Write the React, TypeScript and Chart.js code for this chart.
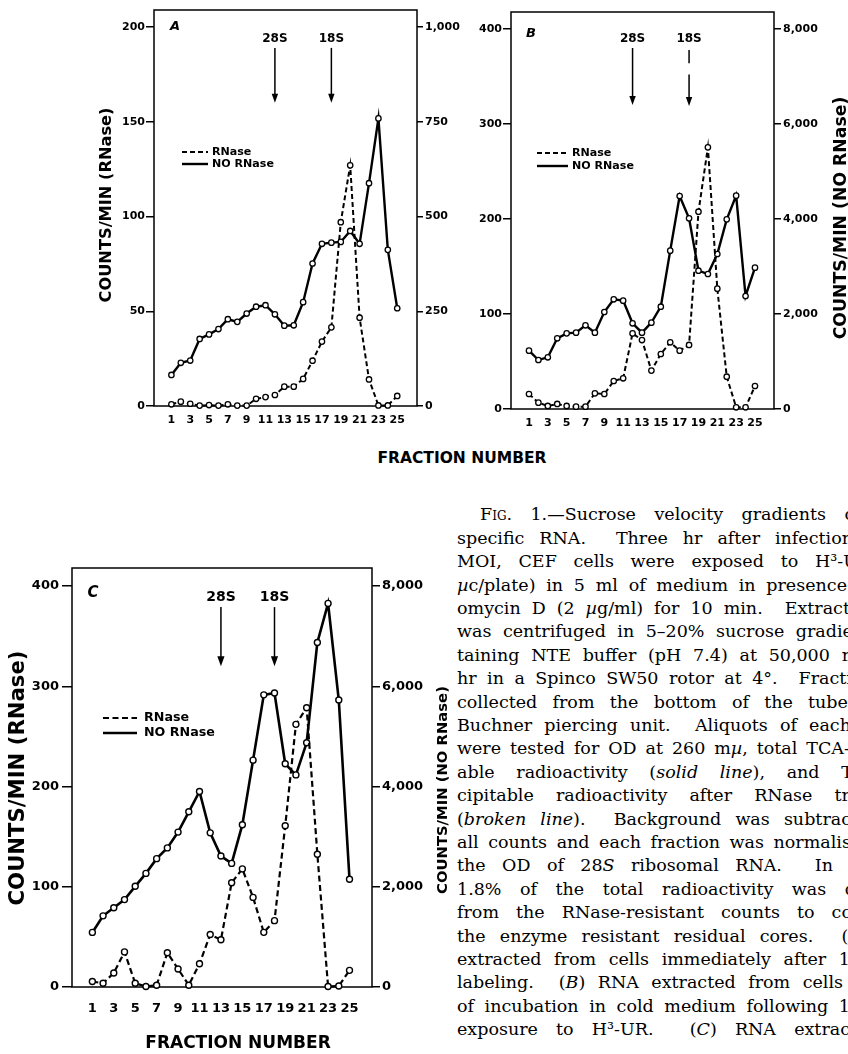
import React, { useEffect, useRef } from "react";
import { Chart, registerables } from "chart.js";

Chart.register(...registerables);

// ---------- DATA ----------
const FRACTIONS = [1, 2, 3, 4, 5, 6, 7, 8, 9, 10, 11, 12, 13, 14, 15, 16, 17, 18, 19, 20, 21, 22, 23, 24, 25];
const X_TICKS = [1, 3, 5, 7, 9, 11, 13, 15, 17, 19, 21, 23, 25];
const A_LEFT_TICKS = [0, 50, 100, 150, 200];
const A_RIGHT_TICKS = [0, 250, 500, 750, 1000];
const BC_LEFT_TICKS = [0, 100, 200, 300, 400];
const BC_RIGHT_TICKS = [0, 2000, 4000, 6000, 8000];
const LEGEND_LABELS = ["RNase", "NO RNase"];
const MARKER_LABELS = ["28S", "18S"];
const A_MARKERS = [12, 18];
const B_MARKERS = [12, 18];
const C_MARKERS = [13, 18];
const LEFT_TITLE = "COUNTS/MIN (RNase)";
const RIGHT_TITLE = "COUNTS/MIN (NO RNase)";
const X_TITLE = "FRACTION NUMBER";

// RNase (left axis), NO RNase (right axis)
const A_RNASE = [0.9, 2.3, 1.2, 0.2, 0.5, 0.2, 0.9, 0.2, 0.2, 3.8, 4.7, 5.8, 10.2, 10.2, 14.3, 23.9, 34, 41.5, 97, 127, 46.6, 14, 0.3, 0.3, 5.3];
const A_NO_RNASE = [82, 114, 120, 177, 189, 203, 229, 222, 244, 262, 266, 242, 212, 213, 274, 376, 428, 431, 433, 462, 428, 588, 759, 412, 258];
const B_RNASE = [15.8, 6.7, 3.2, 5.3, 3.2, 2.5, 2.5, 16.5, 15.8, 29.5, 32.3, 79.6, 72.6, 40.4, 57.9, 70.2, 61.4, 67.4, 207.7, 275.4, 126.7, 34, 1.8, 1.8, 24.2];
const B_NO_RNASE = [1228, 1032, 1088, 1488, 1593, 1607, 1762, 1607, 2042, 2309, 2281, 1804, 1607, 1818, 2154, 3334, 4484, 4014, 2912, 2842, 3263, 3993, 4492, 2379, 2976];
const C_RNASE = [5.5, 3.7, 14, 35, 3.7, 0.5, 1.8, 34.2, 18, 1.8, 23.2, 52.3, 47.1, 104, 117.8, 89.4, 54.5, 66.2, 160.8, 262, 278.6, 132.5, 0.5, 1, 16.6];
const C_NO_RNASE = [1089, 1420, 1582, 1744, 2009, 2267, 2561, 2775, 3091, 3496, 3901, 3076, 2613, 2466, 3238, 4526, 5829, 5866, 4453, 4232, 4872, 6874, 7654, 5726, 2149];

const CAPTION_LINES = [
  "~Fig.~ 1.—Sucrose velocity gradients o",
  "specific RNA.  Three hr after infection",
  "MOI, CEF cells were exposed to H³-U",
  "*µ*c/plate) in 5 ml of medium in presence",
  "omycin D (2 *µ*g/ml) for 10 min.  Extract",
  "was centrifuged in 5–20% sucrose gradie",
  "taining NTE buffer (pH 7.4) at 50,000 r",
  "hr in a Spinco SW50 rotor at 4°.  Fracti",
  "collected from the bottom of the tube",
  "Buchner piercing unit.  Aliquots of each",
  "were tested for OD at 260 m*µ*, total TCA-",
  "able radioactivity (*solid* *line*), and T",
  "cipitable radioactivity after RNase tr",
  "(*broken* *line*).  Background was subtrac",
  "all counts and each fraction was normalis",
  "the OD of 28*S* ribosomal RNA.  In",
  "1.8% of the total radioactivity was d",
  "from the RNase-resistant counts to co",
  "the enzyme resistant residual cores.  (A",
  "extracted from cells immediately after 1",
  "labeling.  (*B*) RNA extracted from cells",
  "of incubation in cold medium following 1",
  "exposure to H³-UR.  (*C*) RNA extrac",
];

// ---------- LAYOUT ----------
const CAPTION_RIGHT = [855, 853, 858, 847, 850, 853, 850, 852, 848, 851, 850, 853, 850, 851, 851, 833, 856, 852, 861, 850, 843, 850, 850];
const CAPTION_LEFT = 457;
const CAPTION_FIRST_LEFT = 480;
const CAPTION_TOP = 515;
const CAPTION_STEP = 23.4;
const CAPTION_FONT = 17.5;
const SANS = '"DejaVu Sans"';

type Panel = {
  letter: string;
  rnase: number[];
  noRnase: number[];
  markers: number[];
  leftTicks: number[];
  rightTicks: number[];
  left: number; top: number; w: number; h: number;
  leftW: number; rightW: number; padTop: number; xH: number;
  xMin: number; xMax: number; yMax: number; y2Max: number;
  tickFont: number; xTickFont: number; xTickPad: number;
  leftTickLen: number; leftTickPad: number; rightTickLen: number; rightTickPad: number;
  solidW: number; dashW: number; dash: number[]; pointR: number; pointBW: number;
  letterPos: [number, number]; letterSize: number;
  markerLabelY: number; markerSegs: [number, number][][]; markerFont: number;
  headW: number; headLen: number;
  legend: { x1: number; x2: number; tx: number; y1: number; y2: number; textW: number };
  titles: { text: string; x: number; y: number; len: number }[];
};

const PANELS: Panel[] = [
  {
    letter: "A", rnase: A_RNASE, noRnase: A_NO_RNASE, markers: A_MARKERS,
    leftTicks: A_LEFT_TICKS, rightTicks: A_RIGHT_TICKS,
    left: 90, top: 0, w: 380, h: 440, leftW: 64, rightW: 53, padTop: 10, xH: 34,
    xMin: -0.85, xMax: 27.1, yMax: 209, y2Max: 1045,
    tickFont: 11, xTickFont: 11, xTickPad: 8,
    leftTickLen: 8, leftTickPad: 1, rightTickLen: 6, rightTickPad: 2,
    solidW: 2.4, dashW: 2, dash: [5, 3], pointR: 2.7, pointBW: 1.3,
    letterPos: [175, 27], letterSize: 13,
    markerLabelY: 194, markerSegs: [[[189, 160]], [[189, 160]]], markerFont: 12,
    headW: 3.2, headLen: 9,
    legend: { x1: 182, x2: 208, tx: 212, y1: 152, y2: 164, textW: 62 },
    titles: [{ text: LEFT_TITLE, x: 107, y: 205, len: 195 }],
  },
  {
    letter: "B", rnase: B_RNASE, noRnase: B_NO_RNASE, markers: B_MARKERS,
    leftTicks: BC_LEFT_TICKS, rightTicks: BC_RIGHT_TICKS,
    left: 470, top: 0, w: 378, h: 440, leftW: 41, rightW: 74, padTop: 12, xH: 31,
    xMin: -0.91, xMax: 27.02, yMax: 417.9, y2Max: 8358,
    tickFont: 11, xTickFont: 11, xTickPad: 8,
    leftTickLen: 8, leftTickPad: 1, rightTickLen: 7, rightTickPad: 2,
    solidW: 2.4, dashW: 2, dash: [5, 3], pointR: 2.7, pointBW: 1.3,
    letterPos: [531, 34], letterSize: 13,
    markerLabelY: 390, markerSegs: [[[380, 320]], [[378, 364], [352, 319]]], markerFont: 12,
    headW: 3.2, headLen: 9,
    legend: { x1: 537, x2: 568, tx: 572, y1: 153, y2: 166, textW: 62 },
    titles: [{ text: RIGHT_TITLE, x: 842, y: 218, len: 243 }],
  },
  {
    letter: "C", rnase: C_RNASE, noRnase: C_NO_RNASE, markers: C_MARKERS,
    leftTicks: BC_LEFT_TICKS, rightTicks: BC_RIGHT_TICKS,
    left: 0, top: 540, w: 456, h: 514, leftW: 72, rightW: 84, padTop: 28, xH: 67,
    xMin: -0.9, xMax: 27.1, yMax: 418, y2Max: 8360,
    tickFont: 13, xTickFont: 13, xTickPad: 14,
    leftTickLen: 10, leftTickPad: 3, rightTickLen: 8, rightTickPad: 2,
    solidW: 2.6, dashW: 2.2, dash: [6, 3.5], pointR: 3, pointBW: 1.4,
    letterPos: [93, 593], letterSize: 15,
    markerLabelY: 389, markerSegs: [[[379, 320]], [[379, 320]]], markerFont: 14,
    headW: 3.6, headLen: 10,
    legend: { x1: 103, x2: 137, tx: 144, y1: 718, y2: 733, textW: 71 },
    titles: [
      { text: LEFT_TITLE, x: 18, y: 778, len: 255 },
      { text: RIGHT_TITLE, x: 443, y: 790, len: 208 },
    ],
  },
];

function fitSize(ctx: CanvasRenderingContext2D, text: string, len: number, weight: string) {
  ctx.font = `${weight} 100px ${SANS}`;
  const w = ctx.measureText(text).width;
  return (100 * len) / w;
}

function decoPlugin(p: Panel) {
  return {
    id: "deco" + p.letter,
    beforeDatasetsDraw(chart: any) {
      const { ctx, chartArea: a } = chart;
      ctx.save();
      ctx.strokeStyle = "#000";
      ctx.lineWidth = 1.5;
      ctx.setLineDash([]);
      ctx.strokeRect(a.left, a.top, a.right - a.left, a.bottom - a.top);
      ctx.restore();
    },
    afterDraw(chart: any) {
      const ctx: CanvasRenderingContext2D = chart.ctx;
      const xs = chart.scales.x;
      const ys = chart.scales.y;
      const ox = p.left;
      const oy = p.top;
      ctx.save();
      ctx.fillStyle = "#000";
      ctx.strokeStyle = "#000";
      ctx.textAlign = "center";
      ctx.textBaseline = "middle";
      // panel letter
      ctx.font = `italic bold ${p.letterSize}px ${SANS}`;
      ctx.fillText(p.letter, p.letterPos[0] - ox, p.letterPos[1] - oy);
      // markers (28S / 18S)
      p.markers.forEach((m, i) => {
        const x = xs.getPixelForValue(m);
        ctx.font = `bold ${p.markerFont}px ${SANS}`;
        ctx.fillText(MARKER_LABELS[i], x, ys.getPixelForValue(p.markerLabelY));
        const segs = p.markerSegs[i];
        ctx.lineWidth = 1.5;
        ctx.setLineDash([]);
        segs.forEach(([t, b], j) => {
          const y1 = ys.getPixelForValue(t);
          const y2 = ys.getPixelForValue(b);
          const last = j === segs.length - 1;
          ctx.beginPath();
          ctx.moveTo(x, y1);
          ctx.lineTo(x, last ? y2 - p.headLen + 1 : y2);
          ctx.stroke();
          if (last) {
            ctx.beginPath();
            ctx.moveTo(x - p.headW, y2 - p.headLen);
            ctx.lineTo(x + p.headW, y2 - p.headLen);
            ctx.lineTo(x, y2);
            ctx.closePath();
            ctx.fill();
          }
        });
      });
      // legend
      const L = p.legend;
      ctx.lineWidth = p.dashW;
      ctx.setLineDash(p.dash);
      ctx.beginPath();
      ctx.moveTo(L.x1 - ox, L.y1 - oy);
      ctx.lineTo(L.x2 - ox, L.y1 - oy);
      ctx.stroke();
      ctx.setLineDash([]);
      ctx.lineWidth = p.solidW;
      ctx.beginPath();
      ctx.moveTo(L.x1 - ox, L.y2 - oy);
      ctx.lineTo(L.x2 - ox, L.y2 - oy);
      ctx.stroke();
      const ls = fitSize(ctx, LEGEND_LABELS[1], L.textW, "bold");
      ctx.font = `bold ${ls}px ${SANS}`;
      ctx.textAlign = "left";
      ctx.fillText(LEGEND_LABELS[0], L.tx - ox, L.y1 - oy);
      ctx.fillText(LEGEND_LABELS[1], L.tx - ox, L.y2 - oy);
      // axis titles (rotated, reading bottom to top)
      p.titles.forEach((t) => {
        const s = fitSize(ctx, t.text, t.len, "bold");
        ctx.save();
        ctx.font = `bold ${s}px ${SANS}`;
        ctx.translate(t.x - ox, t.y - oy);
        ctx.rotate(-Math.PI / 2);
        ctx.textAlign = "center";
        ctx.textBaseline = "middle";
        ctx.fillText(t.text, 0, 0);
        ctx.restore();
      });
      ctx.restore();
    },
  };
}

function buildConfig(p: Panel): any {
  const common = {
    borderColor: "#000",
    pointStyle: "circle",
    pointRadius: p.pointR,
    pointBackgroundColor: "#fff",
    pointBorderColor: "#000",
    pointBorderWidth: p.pointBW,
    fill: false,
    tension: 0,
    clip: false,
  };
  const fmt = (v: any) => Number(v).toLocaleString("en-US");
  return {
    type: "line",
    data: {
      datasets: [
        {
          ...common,
          label: LEGEND_LABELS[0],
          data: FRACTIONS.map((f, i) => ({ x: f, y: p.rnase[i] })),
          yAxisID: "y",
          borderWidth: p.dashW,
          borderDash: p.dash,
        },
        {
          ...common,
          label: LEGEND_LABELS[1],
          data: FRACTIONS.map((f, i) => ({ x: f, y: p.noRnase[i] })),
          yAxisID: "y2",
          borderWidth: p.solidW,
        },
      ],
    },
    options: {
      responsive: false,
      animation: false,
      devicePixelRatio: 1,
      events: [],
      layout: { padding: { top: p.padTop, left: 0, right: 0, bottom: 0 }, autoPadding: false },
      plugins: { legend: { display: false }, tooltip: { enabled: false }, title: { display: false } },
      scales: {
        x: {
          type: "linear",
          position: "bottom",
          min: p.xMin,
          max: p.xMax,
          afterBuildTicks: (s: any) => {
            s.ticks = X_TICKS.map((v) => ({ value: v }));
          },
          afterFit: (s: any) => {
            s.height = p.xH;
          },
          grid: { display: false, drawTicks: false },
          border: { display: false },
          ticks: {
            color: "#000",
            font: { family: "DejaVu Sans", weight: "bold", size: p.xTickFont },
            padding: p.xTickPad,
            maxRotation: 0,
            autoSkip: false,
            callback: (v: any) => String(v),
          },
        },
        y: {
          type: "linear",
          position: "left",
          min: 0,
          max: p.yMax,
          afterBuildTicks: (s: any) => {
            s.ticks = p.leftTicks.map((v) => ({ value: v }));
          },
          afterFit: (s: any) => {
            s.width = p.leftW;
          },
          grid: { drawOnChartArea: false, drawTicks: true, tickLength: p.leftTickLen, color: "#000", lineWidth: 1.5 },
          border: { display: false },
          ticks: {
            color: "#000",
            font: { family: "DejaVu Sans", weight: "bold", size: p.tickFont },
            padding: p.leftTickPad,
            callback: fmt,
          },
        },
        y2: {
          type: "linear",
          position: "right",
          min: 0,
          max: p.y2Max,
          afterBuildTicks: (s: any) => {
            s.ticks = p.rightTicks.map((v) => ({ value: v }));
          },
          afterFit: (s: any) => {
            s.width = p.rightW;
          },
          grid: { drawOnChartArea: false, drawTicks: true, tickLength: p.rightTickLen, color: "#000", lineWidth: 1.5 },
          border: { display: false },
          ticks: {
            color: "#000",
            font: { family: "DejaVu Sans", weight: "bold", size: p.tickFont },
            padding: p.rightTickPad,
            callback: fmt,
          },
        },
      },
    },
    plugins: [decoPlugin(p)],
  };
}

function PanelChart({ p }: { p: Panel }) {
  const ref = useRef<HTMLCanvasElement>(null);
  useEffect(() => {
    if (!ref.current) return;
    const chart = new Chart(ref.current, buildConfig(p));
    return () => chart.destroy();
  }, [p]);
  return (
    <canvas
      ref={ref}
      width={p.w}
      height={p.h}
      style={{ position: "absolute", left: p.left, top: p.top, width: p.w, height: p.h }}
    />
  );
}

function renderWord(word: string) {
  const out: React.ReactNode[] = [];
  let italic = false;
  let caps = false;
  let buf = "";
  const flush = (k: number) => {
    if (!buf) return;
    out.push(
      <span key={k} style={{ fontStyle: italic ? "italic" : "normal", fontVariant: caps ? "small-caps" : "normal" }}>
        {buf}
      </span>
    );
    buf = "";
  };
  for (let i = 0; i < word.length; i++) {
    const ch = word[i];
    if (ch === "*") {
      flush(i);
      italic = !italic;
    } else if (ch === "~") {
      flush(i);
      caps = !caps;
    } else buf += ch;
  }
  flush(word.length + 1);
  return out;
}

function Caption() {
  return (
    <>
      {CAPTION_LINES.map((line, k) => {
        const left = k === 0 ? CAPTION_FIRST_LEFT : CAPTION_LEFT;
        const cy = CAPTION_TOP + k * CAPTION_STEP;
        const words = line.split(" ");
        return (
          <div
            key={k}
            style={{
              position: "absolute",
              left,
              top: cy - CAPTION_STEP / 2,
              width: CAPTION_RIGHT[k] - left,
              height: CAPTION_STEP,
              lineHeight: CAPTION_STEP + "px",
              display: "flex",
              justifyContent: "space-between",
              whiteSpace: "nowrap",
              fontFamily: '"DejaVu Serif", serif',
              fontSize: CAPTION_FONT,
              color: "#000",
            }}
          >
            {words.map((w, i) => (
              <span key={i} style={{ flexShrink: 0 }}>
                {renderWord(w)}
              </span>
            ))}
          </div>
        );
      })}
    </>
  );
}

function XTitle({ cx, cy, size }: { cx: number; cy: number; size: number }) {
  return (
    <div
      style={{
        position: "absolute",
        left: cx - 150,
        width: 300,
        top: cy - 12,
        height: 24,
        lineHeight: "24px",
        textAlign: "center",
        fontFamily: SANS,
        fontWeight: "bold",
        fontSize: size,
        color: "#000",
        whiteSpace: "nowrap",
      }}
    >
      {X_TITLE}
    </div>
  );
}

export default function App() {
  return (
    <div
      style={{
        position: "fixed",
        left: 0,
        top: 0,
        width: 848,
        height: 1054,
        overflow: "hidden",
        background: "#fff",
      }}
    >
      {PANELS.map((p) => (
        <PanelChart key={p.letter} p={p} />
      ))}
      <XTitle cx={462} cy={458} size={15.5} />
      <XTitle cx={238} cy={1042} size={17} />
      <Caption />
    </div>
  );
}
